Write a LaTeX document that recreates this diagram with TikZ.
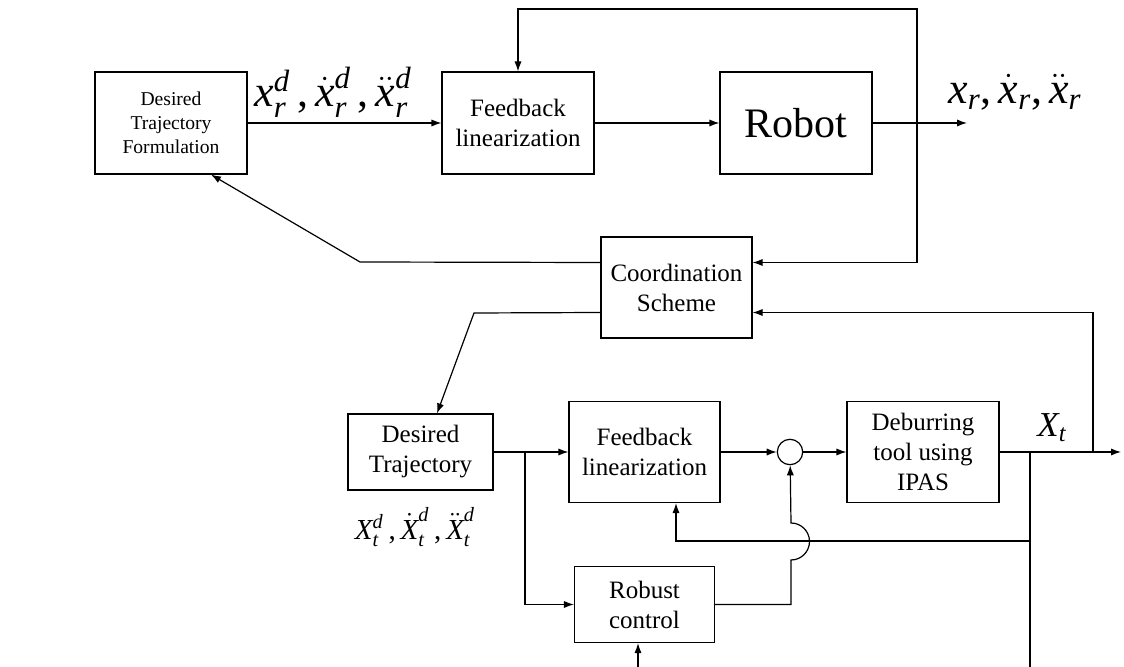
\documentclass[tikz,border=0pt]{standalone}
\usepackage{amsmath}
\usepackage[no-math]{fontspec}
\setmainfont{Liberation Serif}
\usetikzlibrary{arrows.meta}

\begin{document}
\begin{tikzpicture}[->, >={Latex[length=5pt,width=3.6pt]}, x=0.5pt, y=-0.5pt, line width=0.6pt,
  block/.style={draw, align=center, minimum width=76pt, minimum height=51pt, inner sep=1pt,
    font=\fontsize{12.5}{15}\selectfont},
  sum node/.style={draw, circle, minimum size=12.7pt, inner sep=0pt}]
\useasboundingbox (0,0) rectangle (1124,667);

\node[block, font=\fontsize{9.8}{12}\selectfont] (dtf) at (171,123) {Desired\\Trajectory\\Formulation};
\node[block, right of=dtf, node distance=173.5pt] (fbl) {Feedback\\linearization};
\node[block, right of=fbl, node distance=139pt, font=\fontsize{21}{24}\selectfont] (robot) {Robot};
\node[block, below of=fbl, node distance=82.25pt, xshift=79.25pt, minimum width=75.5pt, minimum height=50.5pt] (coord) {Coordination\\Scheme};
\node[block, below of=coord, node distance=82.25pt, xshift=-128pt, minimum width=72.5pt, minimum height=38pt] (dtraj) {Desired\\Trajectory};
\node[block, right of=dtraj, node distance=112pt, minimum width=75.5pt, minimum height=50.5pt] (fbl2) {Feedback\\linearization};
\node[sum node, right of=fbl2, node distance=72.75pt] (sum) {};
\node[block, right of=sum, node distance=66.5pt, minimum height=50.5pt] (deburr) {Deburring\\tool using\\IPAS};
\node[block, below of=fbl2, node distance=76.25pt, minimum width=70pt, minimum height=38pt] (robust) {Robust\\control};

% signal labels
\node[font=\fontsize{22}{26}\selectfont] (xrd) at (333,92)
  {$\textit{x}_{\textit{r}}^{\textit{d}}\,\text{,}\,\dot{\textit{x}}_{\textit{r}}^{\textit{d}}\,\text{,}\,\ddot{\textit{x}}_{\textit{r}}^{\textit{d}}$};
\node[font=\fontsize{22}{26}\selectfont] (xr) at (1015,92)
  {$\textit{x}_{\textit{r}}\text{,}\,\dot{\textit{x}}_{\textit{r}}\text{,}\,\ddot{\textit{x}}_{\textit{r}}$};
\node[font=\fontsize{17.5}{20}\selectfont] (xt) at (1052,428) {$\textit{X}_{\textit{t}}$};
\node[font=\fontsize{14.5}{17}\selectfont] (xtd) at (415,527)
  {$\textit{X}_{\textit{t}}^{\textit{d}}\,\text{,}\,\dot{\textit{X}}_{\textit{t}}^{\textit{d}}\,\text{,}\,\ddot{\textit{X}}_{\textit{t}}^{\textit{d}}$};

\coordinate (tap)    at (917,123);
\coordinate (top)    at (917,9);
\coordinate (out)    at (967,123);
\coordinate (k1)     at (360,262);
\coordinate (k2)     at (474,313);
\coordinate (split1) at (525,452);
\coordinate (split2) at (1030,452);
\coordinate (split3) at (1093,452);
\coordinate (tap2)   at (1030,541);
\coordinate (end)    at (1121,452);
\coordinate (low1)   at (1030,667);
\coordinate (low2)   at (638,667);
\coordinate (hop)    at (791,560);

\draw (dtf) -- (fbl);
\draw (fbl) -- (robot);
\draw (robot) -- (out);
\draw (tap) -- (top) -| (fbl);
\draw (tap) |- ([yshift=12.5pt]coord.east);
\draw ([yshift=12.5pt]coord.west) -- (k1) -- ([xshift=20pt]dtf.south);
\draw ([yshift=-12.5pt]coord.west) -- (k2) -- ([xshift=8.25pt]dtraj.north);
\draw (dtraj) -- (fbl2);
\draw (split1) |- (robust);
\draw (fbl2) -- (sum);
\draw (sum) -- (deburr);
\draw (deburr) -- (end);
\draw (split3) |- ([yshift=-12.5pt]coord.east);
\draw[-] (split2) -- (low1);
\draw (tap2) -| ([xshift=15.75pt]fbl2.south);
\draw (robust) -| (hop) arc[start angle=-90, end angle=90, radius=9.25pt] -- (sum);
\draw (low2) -- (low2 |- robust.south);
\end{tikzpicture}
\end{document}
